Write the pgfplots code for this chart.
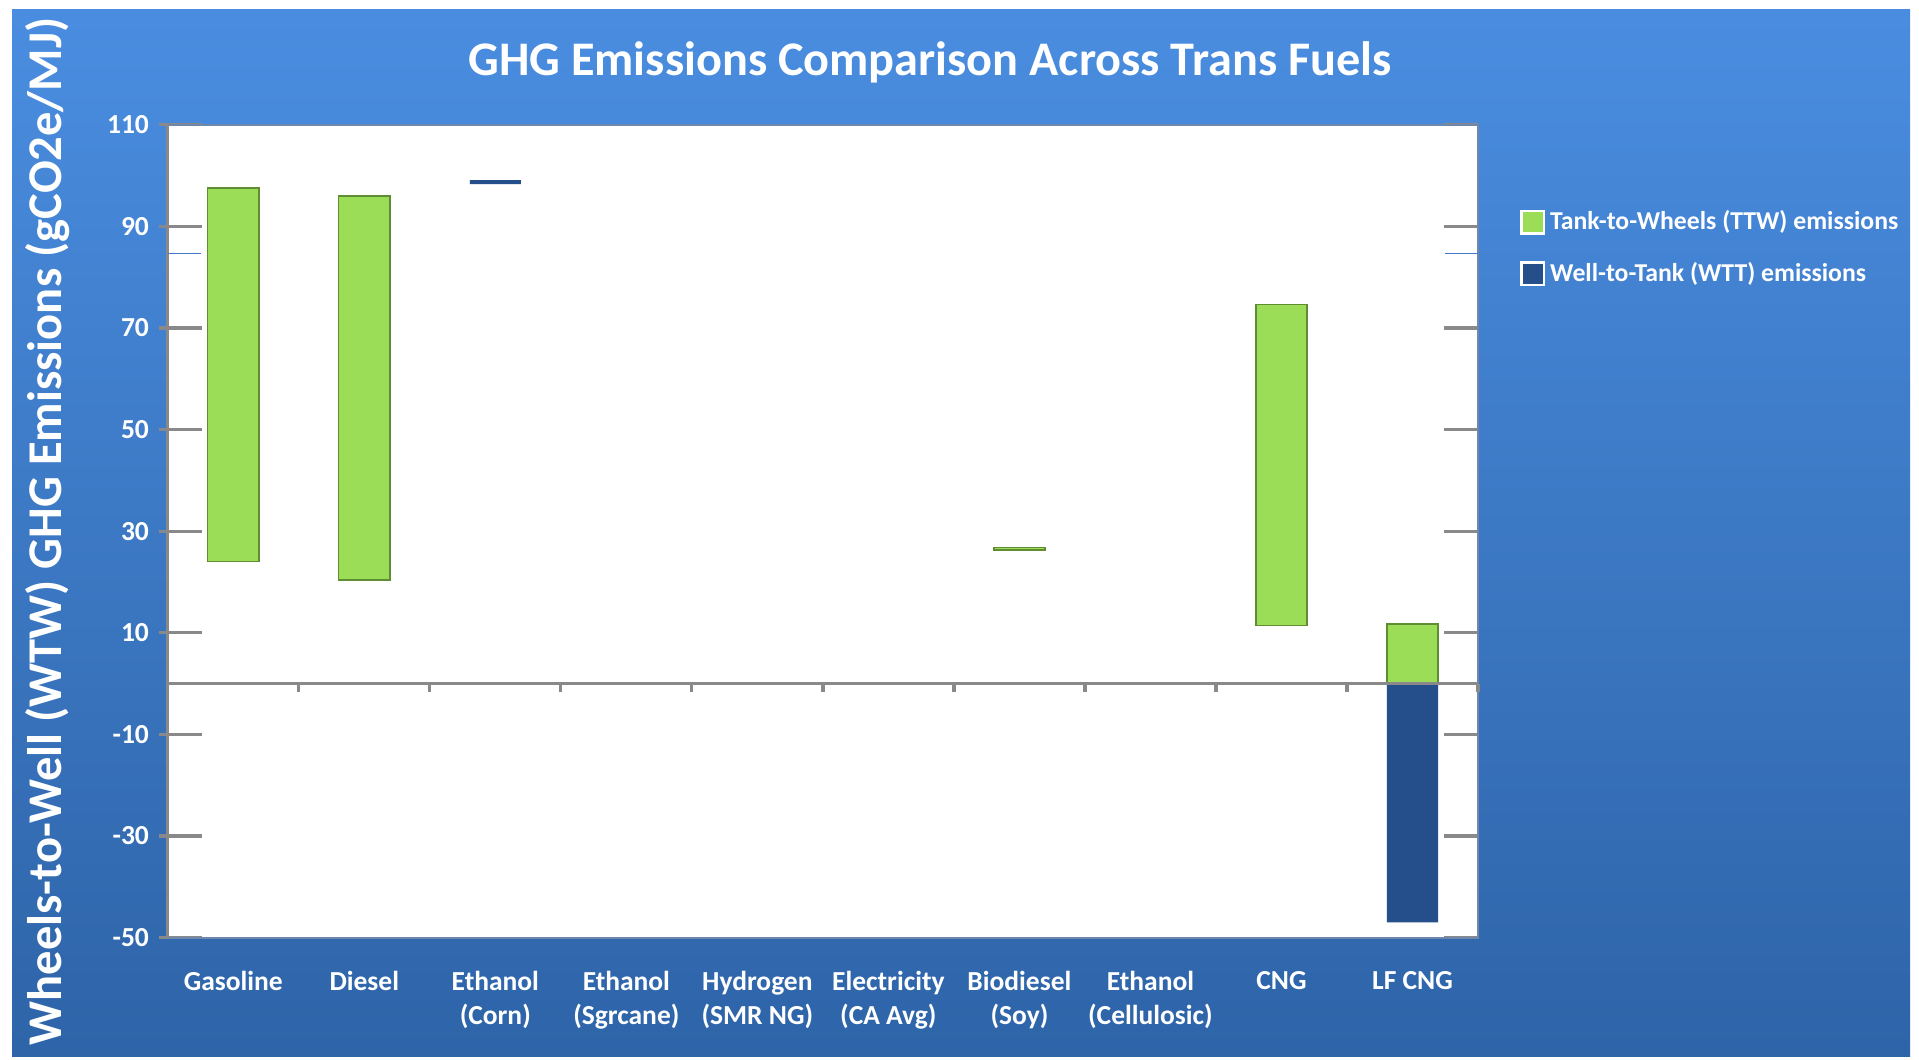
\documentclass[border=0pt]{standalone}
\usepackage{fontspec}
\setmainfont{Carlito}
\usepackage{pgfplots}
\pgfplotsset{compat=1.18}
\definecolor{bgtop}{RGB}{74,141,224}
\definecolor{bgbot}{RGB}{46,100,168}
\definecolor{ttw}{RGB}{155,221,86}
\definecolor{ttwdark}{RGB}{96,140,50}
\definecolor{wtt}{RGB}{36,79,138}
\definecolor{axgray}{RGB}{137,137,137}
\definecolor{frame}{RGB}{110,135,170}
\definecolor{thinblue}{RGB}{70,120,200}
\begin{document}
\begin{tikzpicture}
\fill[white] (0,0) rectangle (767.6pt,423.6pt);
\shade[top color=bgtop, bottom color=bgbot] (4.8pt,1.2pt) rectangle (764pt,419.6pt);
\node[text=white, font=\bfseries\fontsize{19.3}{21}\selectfont] at (372pt,398.5pt) {GHG Emissions Comparison Across Trans Fuels};
\node[text=white, rotate=90, font=\bfseries\fontsize{19.4}{21}\selectfont] at (19pt,211pt) {Wheels-to-Well (WTW) GHG Emissions (gCO2e/MJ)};

\begin{axis}[
  at={(67.1pt,48.6pt)}, anchor=south west,
  scale only axis, width=524.1pt, height=325.1pt,
  xmin=-0.5, xmax=9.5, ymin=-50, ymax=110,
  ybar stacked, bar width=0.39,
  axis background/.style={fill=white},
  axis line style={draw=frame, line width=0.8pt},
  xtick={0,...,9},
  xticklabels={Gasoline, Diesel, Ethanol\\(Corn), Ethanol\\(Sgrcane), Hydrogen\\(SMR NG), Electricity\\(CA Avg), Biodiesel\\(Soy), Ethanol\\(Cellulosic), CNG, LF CNG},
  xticklabel style={align=center, text=white, font=\bfseries\fontsize{11}{13.5}\selectfont, yshift=-10pt, anchor=north},
  ytick={-50,-30,...,110},
  yticklabels={-50,-30,-10,10,30,50,70,90,110},
  yticklabel style={text=white, font=\bfseries\fontsize{11}{13}\selectfont, xshift=-4pt},
  ytick pos=both,
  tick align=inside, major tick length=13.5pt,
  ytick style={draw=axgray, line width=1.3pt},
  xtick style={draw=none},
  legend cell align=left,
  legend style={draw=none, fill=none, text=white, font=\bfseries\fontsize{10.3}{12}\selectfont,
    at={(1.026,0.907)}, anchor=north west, row sep=7.5pt},
]
\addplot[draw=none, fill=none, forget plot] coordinates {(0,24.0)(1,20.4)(2,98.3)(6,26.3)(8,11.4)(9,0)};
\addplot[fill=ttw, draw=ttwdark, line width=0.6pt, legend image code/.code={\draw[fill=ttw, draw=white, line width=1pt] (0pt,-4.5pt) rectangle (9pt,4.5pt);}] coordinates {(0,73.5)(1,75.6)(2,0)(6,0.5)(8,63.2)(9,11.7)};
\addlegendentry{Tank-to-Wheels (TTW) emissions}
\addplot[fill=wtt, draw=none, legend image code/.code={\draw[fill=wtt, draw=white, line width=1pt] (0pt,-4.5pt) rectangle (9pt,4.5pt);}] coordinates {(0,0)(1,0)(2,0.8)(6,0)(8,0)(9,-47)};
\addlegendentry{Well-to-Tank (WTT) emissions}
\end{axis}

\begin{axis}[
  at={(67.1pt,48.6pt)}, anchor=south west,
  scale only axis, width=524.1pt, height=325.1pt,
  xmin=-0.5, xmax=9.5, ymin=-50, ymax=110,
  axis x line*=middle, axis y line*=left,
  axis line style={draw=axgray, line width=1.3pt, -},
  xtick={-0.5,0.5,...,9.5}, xticklabels={},
  ytick={-50,-30,...,110}, yticklabels={},
  tick align=outside, major tick length=3.5pt,
  tick style={draw=axgray, line width=1.3pt},
]
\addplot[draw=thinblue, line width=0.5pt, mark=none] coordinates {(-0.5,84.7)(-0.25,84.7)};
\addplot[draw=thinblue, line width=0.5pt, mark=none] coordinates {(9.25,84.7)(9.5,84.7)};
\end{axis}
\pgfresetboundingbox
\path (0,0) rectangle (767.6pt,423.6pt);
\end{tikzpicture}
\end{document}
